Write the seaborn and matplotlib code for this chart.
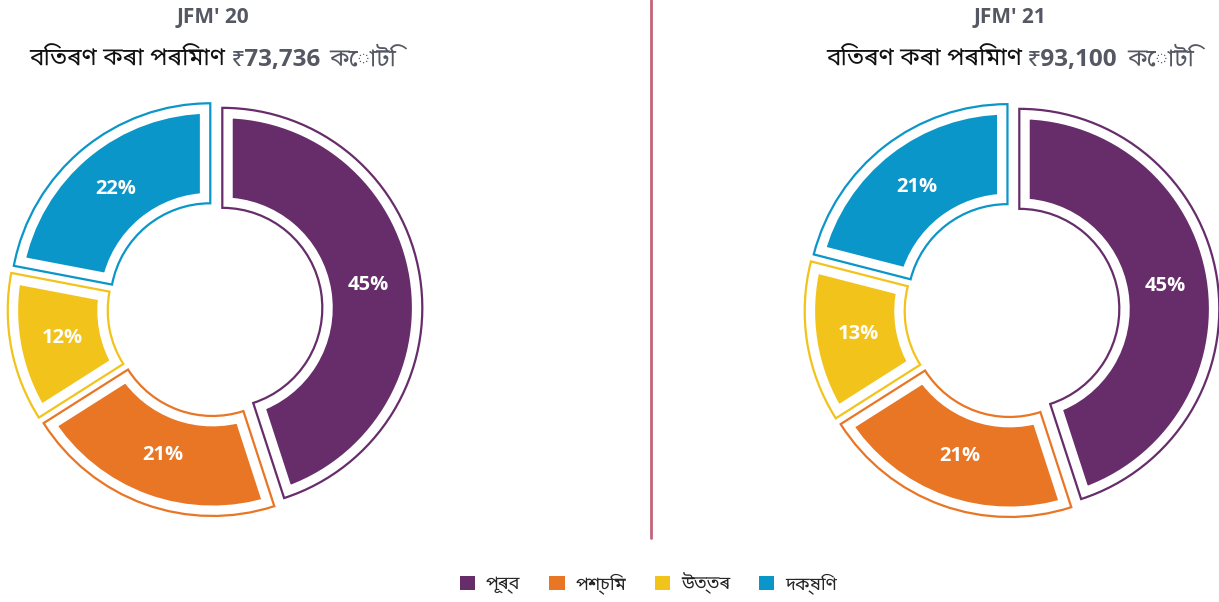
import matplotlib
matplotlib.use("Agg")
import matplotlib.pyplot as plt
from matplotlib import font_manager
from matplotlib.patches import Patch
import seaborn as sns

sns.set_style("white")

# pick an installed font that has Bengali/Assamese glyphs
installed = {f.name for f in font_manager.fontManager.ttflist}
bn_family = next((f for f in ["Noto Sans Bengali", "Hind Siliguri", "FreeSans", "Anek Bangla"]
                  if f in installed), "DejaVu Sans")
plt.rcParams["font.family"] = [bn_family, "Open Sans", "DejaVu Sans"]
num_font = ["Open Sans", bn_family, "DejaVu Sans"]

regions = ["পূৰ্ব", "পশ্চিম", "উত্তৰ", "দক্ষিণ"]
colors = ["#662d6a", "#e87625", "#f2c31b", "#0b96c9"]
share_20 = [45, 21, 12, 22]
share_21 = [45, 21, 13, 21]
periods = ["JFM' 20", "JFM' 21"]
amounts = ["₹73,736", "₹93,100"]

fig = plt.figure(figsize=(12.19, 6.02), dpi=100)
W, H = 1219, 602
R = 200
centers = [(215, 309), (1012, 310)]


def donut(cx, cy, values):
    half = 1.1 * R
    ax = fig.add_axes([(cx - half) / W, (H - cy - half) / H, 2 * half / W, 2 * half / H])
    explode = [0.037] * len(values)
    # filled wedges, inset by a wide white stroke
    wedges, _, pct = ax.pie(values, colors=colors, startangle=90, counterclock=False,
                            explode=explode, radius=1,
                            autopct="%d%%", pctdistance=0.74,
                            wedgeprops=dict(width=0.5, edgecolor="white", linewidth=15),
                            textprops=dict(color="white", fontsize=14.5, fontweight="bold",
                                           family=num_font))
    for w in wedges:
        w.set_joinstyle("miter")
    # thin coloured outlines on top
    outl, _ = ax.pie(values, colors=colors, startangle=90, counterclock=False,
                     explode=explode, radius=1,
                     wedgeprops=dict(width=0.5, linewidth=1.6, fill=False))
    for w, c in zip(outl, colors):
        w.set_edgecolor(c)
        w.set_joinstyle("miter")
    for t in pct:
        t.set_zorder(5)
    ax.set_xlim(-1.1, 1.1)
    ax.set_ylim(-1.1, 1.1)
    ax.set_aspect("equal")
    ax.axis("off")
    return ax


donut(*centers[0], share_20)
donut(*centers[1], share_21)

gray = "#555763"
renderer = fig.canvas.get_renderer()
for (cx, _), per, amt in zip(centers, periods, amounts):
    fig.text((cx - 2) / W, 1 - 18 / H, per, ha="center", va="center", fontsize=15,
             fontweight="bold", color=gray, family=num_font)
    # subtitle in three styles, laid out side by side and centred on the donut
    parts = [
        fig.text(0, 1 - 60 / H, "বিতৰণ কৰা পৰিমাণ", va="center", fontsize=17.5,
                 fontweight="bold", color="#111111"),
        fig.text(0, 1 - 60 / H, amt, va="center", fontsize=17.5, fontweight="bold",
                 color=gray, family=num_font),
        fig.text(0, 1 - 60 / H, "কোটি", va="center", fontsize=17.5, color=gray),
    ]
    gaps = [5, 9, 0]
    widths = [p.get_window_extent(renderer).width for p in parts]
    total = sum(widths) + sum(gaps[:-1])
    x = cx - 2 - total / 2
    for p, w, g in zip(parts, widths, gaps):
        p.set_x(x / W)
        x += w + g

# divider
fig.add_artist(plt.Line2D([651 / W, 651 / W], [1, 1 - 538 / H], color="#c4647a", lw=2))

handles = [Patch(facecolor=c, edgecolor="none") for c in colors]
fig.legend(handles, regions, loc="center", bbox_to_anchor=(0.532, 1 - 583 / H), ncol=4,
           frameon=False, fontsize=13, handlelength=0.85, handleheight=0.85,
           columnspacing=1.6, handletextpad=0.6)

fig.savefig("out.png", dpi=100)
